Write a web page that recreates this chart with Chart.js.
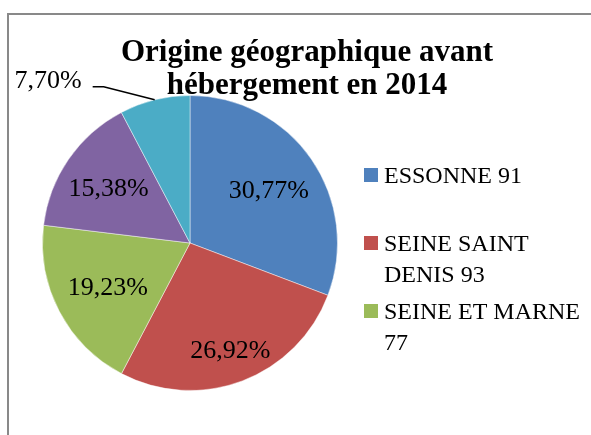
<!DOCTYPE html>
<html>
<head>
<meta charset="utf-8">
<script src="https://cdn.jsdelivr.net/npm/chart.js@4.4.0/dist/chart.umd.min.js"></script>
<style>
  html, body { margin: 0; padding: 0; background: #ffffff; }
  #wrap { width: 591px; height: 435px; position: relative; }
</style>
</head>
<body>
<div id="wrap"><canvas id="c" width="591" height="435"></canvas></div>
<script>
// ---- data ----
const titleLines = ['Origine géographique avant', 'hébergement en 2014'];
const categories = ['ESSONNE 91', 'SEINE SAINT DENIS 93', 'SEINE ET MARNE 77', 'Autre 1', 'Autre 2'];
const values = [30.77, 26.92, 19.23, 15.38, 7.70];
const colors = ['#4F81BD', '#C0504D', '#9BBB59', '#8064A2', '#4BACC6'];
const legendShownCount = 3;

function fmt(v) { return v.toFixed(2).replace('.', ',') + '%'; }

const framePlugin = {
  id: 'frame',
  beforeDraw(chart) {
    const ctx = chart.ctx;
    ctx.save();
    ctx.strokeStyle = '#898989';
    ctx.lineWidth = 2;
    ctx.strokeRect(8, 14, 700, 600);
    ctx.restore();
  }
};

const titlePlugin = {
  id: 'customTitle',
  afterDraw(chart, args, opts) {
    const ctx = chart.ctx;
    ctx.save();
    ctx.fillStyle = '#000';
    ctx.font = 'bold 31px "Liberation Serif", serif';
    ctx.textAlign = 'center';
    ctx.textBaseline = 'alphabetic';
    titleLines.forEach((t, i) => ctx.fillText(t, opts.x, opts.y + i * opts.lineHeight));
    ctx.restore();
  }
};

const labelPlugin = {
  id: 'sliceLabels',
  afterDatasetsDraw(chart, args, opts) {
    const ctx = chart.ctx;
    const meta = chart.getDatasetMeta(0);
    ctx.save();
    ctx.fillStyle = '#000';
    ctx.font = '26px "Liberation Serif", serif';
    ctx.textBaseline = 'alphabetic';
    meta.data.forEach((arc, i) => {
      const p = arc.getProps(['x', 'y', 'startAngle', 'endAngle', 'outerRadius'], true);
      const mid = (p.startAngle + p.endAngle) / 2;
      const text = fmt(values[i]);
      const f = opts.factors[i];
      if (f > 0) {
        const lx = p.x + Math.cos(mid) * p.outerRadius * f;
        const ly = p.y + Math.sin(mid) * p.outerRadius * f;
        ctx.textAlign = 'center';
        ctx.fillText(text, lx, ly + 9);
      } else {
        // outside label with leader line
        const ex = p.x + Math.cos(mid) * p.outerRadius;
        const ey = p.y + Math.sin(mid) * p.outerRadius;
        const bx = ex - 51, by = ey - 13;
        const hx = bx - 11;
        ctx.strokeStyle = '#000';
        ctx.lineWidth = 1.5;
        ctx.beginPath();
        ctx.moveTo(ex, ey);
        ctx.lineTo(bx, by);
        ctx.lineTo(hx, by);
        ctx.stroke();
        ctx.textAlign = 'right';
        ctx.fillText(text, hx - 11, by + 1);
      }
    });
    ctx.restore();
  }
};

const legendPlugin = {
  id: 'customLegend',
  afterDraw(chart, args, opts) {
    const ctx = chart.ctx;
    ctx.save();
    ctx.font = '24px "Liberation Serif", serif';
    ctx.textAlign = 'left';
    ctx.textBaseline = 'alphabetic';
    const maxW = 591 - opts.textX;
    for (let i = 0; i < legendShownCount; i++) {
      const base = opts.firstBaseline + i * opts.itemStep;
      ctx.fillStyle = colors[i];
      ctx.fillRect(opts.boxX, base - 15, 14, 14);
      // wrap words
      const words = categories[i].split(' ');
      const lines = [];
      let cur = '';
      words.forEach(w => {
        const test = cur ? cur + ' ' + w : w;
        if (ctx.measureText(test).width > maxW && cur) { lines.push(cur); cur = w; }
        else cur = test;
      });
      if (cur) lines.push(cur);
      ctx.fillStyle = '#000';
      lines.forEach((l, j) => ctx.fillText(l, opts.textX, base + j * opts.lineHeight));
    }
    ctx.restore();
  }
};

new Chart(document.getElementById('c'), {
  type: 'pie',
  data: {
    labels: categories,
    datasets: [{
      data: values,
      backgroundColor: colors,
      borderColor: 'rgba(255,255,255,0.45)',
      borderWidth: 1
    }]
  },
  options: {
    responsive: false,
    animation: false,
    layout: { padding: { left: 42, top: 95, right: 253, bottom: 44 } },
    plugins: {
      legend: { display: false },
      title: { display: false },
      tooltip: { enabled: false },
      customTitle: { x: 307, y: 61, lineHeight: 33 },
      sliceLabels: { factors: [0.65, 0.77, 0.63, 0.67, 0] },
      customLegend: { boxX: 364, textX: 384, firstBaseline: 183, itemStep: 68, lineHeight: 31 }
    }
  },
  plugins: [framePlugin, titlePlugin, labelPlugin, legendPlugin]
});
</script>
</body>
</html>
